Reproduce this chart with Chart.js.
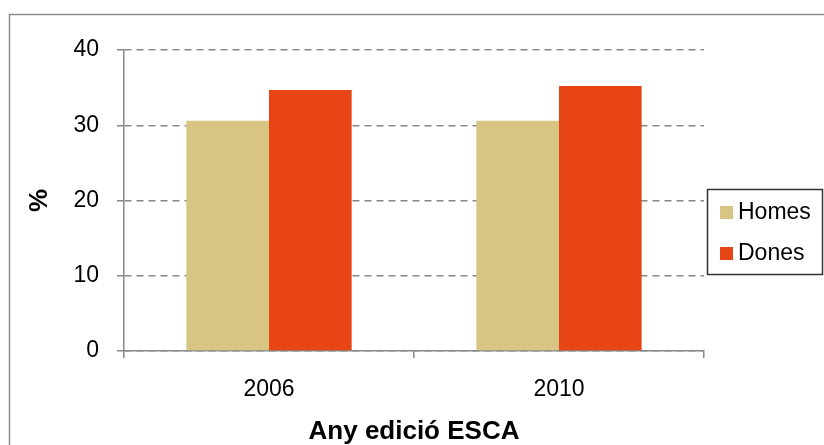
<!DOCTYPE html>
<html><head><meta charset="utf-8">
<script src="https://cdn.jsdelivr.net/npm/chart.js@4.4.1/dist/chart.umd.min.js"></script>
<style>html,body{margin:0;padding:0;background:#fff;}#wrap{width:824px;height:445px;position:relative;overflow:hidden;}</style>
</head><body><div id="wrap"><canvas id="c" width="824" height="445"></canvas></div>
<script>
const categories = ['2006', '2010'];
const seriesNames = ['Homes', 'Dones'];
const homesValues = [30.6, 30.6];
const donesValues = [34.7, 35.2];
const yTicks = [0, 10, 20, 30, 40];
const xTitle = 'Any edició ESCA';
const yTitle = '%';

const FONT = '"Liberation Sans", Arial, sans-serif';
Chart.defaults.font.family = FONT;
Chart.defaults.color = '#000';

const framePlugin = {
  id: 'frame',
  beforeDraw(chart) {
    const ctx = chart.ctx;
    ctx.save();
    ctx.fillStyle = '#fff';
    ctx.fillRect(0, 0, chart.width, chart.height);
    ctx.strokeStyle = '#8c8c8c';
    ctx.lineWidth = 1.5;
    ctx.strokeRect(9.5, 14.5, 900, 500);
    ctx.restore();
  }
};

const boxLegend = {
  id: 'boxLegend',
  afterDraw(chart) {
    const ctx = chart.ctx;
    ctx.save();
    ctx.strokeStyle = '#333';
    ctx.lineWidth = 1.5;
    ctx.strokeRect(707.5, 189.5, 115, 85);
    ctx.font = '23px ' + FONT;
    ctx.textBaseline = 'middle';
    ctx.textAlign = 'left';
    chart.data.datasets.forEach((ds, i) => {
      const y = 212.5 + i * 41;
      ctx.fillStyle = ds.backgroundColor;
      ctx.fillRect(720, y - 6.5, 13, 13);
      ctx.fillStyle = '#000';
      ctx.fillText(ds.label, 738, y + 0.5);
    });
    ctx.restore();
  }
};

new Chart(document.getElementById('c'), {
  type: 'bar',
  data: {
    labels: categories,
    datasets: [
      { label: seriesNames[0], data: homesValues, backgroundColor: '#D9C583', borderWidth: 0 },
      { label: seriesNames[1], data: donesValues, backgroundColor: '#E84516', borderWidth: 0 }
    ]
  },
  options: {
    responsive: false,
    animation: false,
    devicePixelRatio: 1,
    layout: { padding: { left: 27, right: 120, top: 50, bottom: 0 } },
    plugins: { legend: { display: false }, tooltip: { enabled: false } },
    datasets: { bar: { categoryPercentage: 0.57, barPercentage: 1.0 } },
    scales: {
      x: {
        offset: true,
        grid: { display: true, drawOnChartArea: false, offset: true, drawTicks: true, tickLength: 7, color: '#888', lineWidth: 1.5, tickColor: '#888', tickWidth: 1.5 },
        border: { display: true, color: '#888', width: 1.5 },
        ticks: { font: { size: 23 }, color: '#000', padding: 18, maxRotation: 0 },
        title: { display: true, text: xTitle, font: { size: 26, weight: 'bold', lineHeight: 1 }, padding: { top: 0, bottom: 0 }, color: '#000' },
        afterFit(scale) { scale.height = 94; }
      },
      y: {
        min: 0, max: 40,
        afterBuildTicks(scale) { scale.ticks = yTicks.map(v => ({ value: v })); },
        grid: { color: '#888', lineWidth: 1.5, tickBorderDash: [], tickLength: 7, tickColor: '#888', tickWidth: 1.5 },
        border: { display: true, color: '#888', width: 1.5, dash: [7, 5] },
        ticks: { font: { size: 23 }, color: '#000', padding: 18 },
        title: { display: true, text: yTitle, font: { size: 26, weight: 'bold', lineHeight: 1 }, padding: { top: 0, bottom: 0 }, color: '#000' },
        afterFit(scale) { scale.width = 97; }
      }
    }
  },
  plugins: [framePlugin, boxLegend]
});
</script>
</body></html>
